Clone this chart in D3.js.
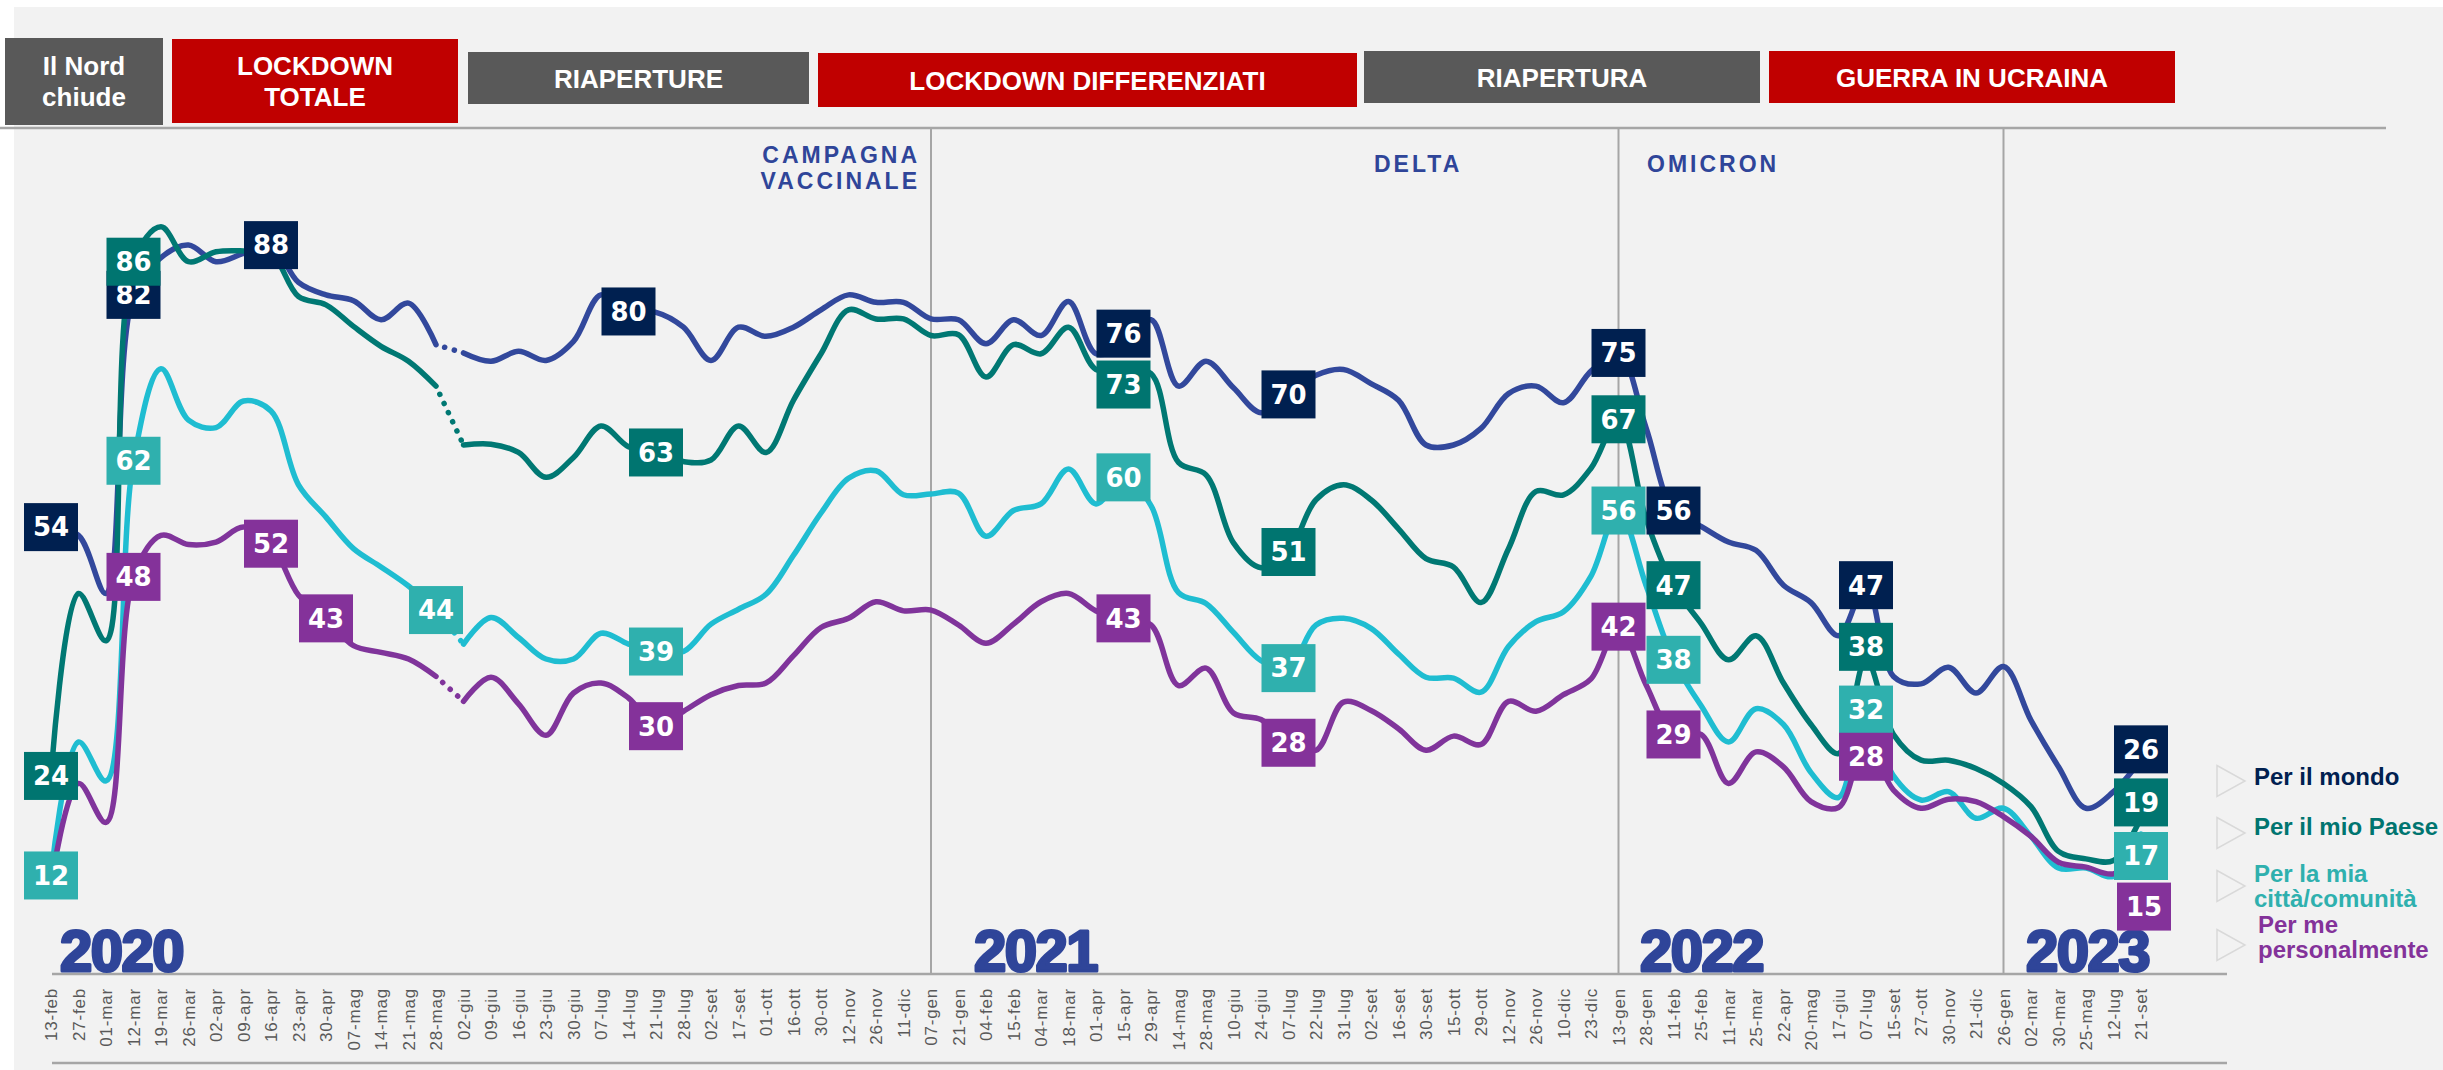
<!DOCTYPE html>
<html>
<head>
<meta charset="utf-8">
<script src="https://cdn.jsdelivr.net/npm/d3@7"></script>
<style>
  html, body { margin: 0; padding: 0; background: #ffffff; }
  svg { display: block; }
</style>
</head>
<body>
<svg id="chart" width="2443" height="1070"></svg>
<script>
// ---------------- DATA ----------------
const categories = ["13-feb","27-feb","01-mar","12-mar","19-mar","26-mar","02-apr","09-apr","16-apr","23-apr","30-apr","07-mag","14-mag","21-mag","28-mag","02-giu","09-giu","16-giu","23-giu","30-giu","07-lug","14-lug","21-lug","28-lug","02-set","17-set","01-ott","16-ott","30-ott","12-nov","26-nov","11-dic",
  "07-gen","21-gen","04-feb","15-feb","04-mar","18-mar","01-apr","15-apr","29-apr","14-mag","28-mag","10-giu","24-giu","07-lug","22-lug","31-lug","02-set","16-set","30-set","15-ott","29-ott","12-nov","26-nov","10-dic","23-dic",
  "13-gen","28-gen","11-feb","25-feb","11-mar","25-mar","22-apr","20-mag","17-giu","07-lug","15-set","27-ott","30-nov","21-dic",
  "26-gen","02-mar","30-mar","25-mag","12-lug","21-set"];

const perIlMondo = [54,53,46,82,86.5,88,86,87,88,83.5,82,81.3,79,81,76,75,74,75.2,74.1,76.4,82,80,79.9,78.1,74.1,78.1,77,78.1,80.2,82,81.1,81.1,
  79.1,79,76.1,79,77.1,81.2,74.9,76,79,71,74,70.8,67.8,70,72.3,73,71.3,69.3,63.9,63.9,65.9,70.1,71,69,72.8,
  75,66,56,54.1,52.2,51.2,47,44.9,40.9,47,36,35.1,37.1,34,
  37.2,30.7,25.1,20.1,22.1,26];

const perIlMioPaese = [24,46,40.3,86,90.2,86,87.2,87.3,87,81.8,80.8,78.2,75.8,74,71,63.9,64,63,60,62.4,66.2,63.7,63,61.9,62.1,66.2,63,69.3,74.9,80.2,79.1,79.1,
  77.1,77.2,72.1,76,74.9,78.1,73,73,72.5,61.8,60.3,52.1,49.1,51,57.3,59.1,57.3,53.8,50.2,49.2,44.9,51.4,58.3,57.9,61.1,
  67,55,47,42.4,38,40.9,35.2,30.2,26.7,38,29,25.9,25.9,24.9,
  23.1,20.3,14.9,14,13.8,19];

const perLaMiaCitta = [12,28.1,23.4,62,73.1,66.9,66,69.2,68,59.1,55.2,51.4,49.2,46.9,44,39.9,43.1,40.7,38.1,38.1,41.2,39.9,39,39,42.3,44.1,45.9,50.6,55.7,59.9,60.8,57.9,
  58,58.1,52.9,56,56.8,61,56.8,60,56.6,46.1,44.8,41.3,37.9,37,42.2,43,41.8,38.7,35.9,35.8,34.1,39.6,42.6,43.8,48.1,
  56,47,38,32.5,28.1,32.1,30.2,24.4,21.4,32,24,21.1,22.1,18.9,
  20.1,16.7,12.9,12.9,11.9,17];

const perMePersonalmente = [11,23.1,18.4,48,53,51.9,52.2,54,52,45.8,43,39.7,38.9,38.1,36,33,35.9,32.7,28.9,34,35.2,33.4,30,31.8,33.8,34.9,35.2,38.5,41.9,43,45,43.9,
  44,42.2,40,42.3,45,46,43.9,43,42.2,34.9,37,31.6,30.8,28,27.1,32.9,31.9,29.7,27.1,28.8,27.8,33,31.8,33.8,35.7,
  42,35,29,29,23.1,26.9,25.1,20.9,20.2,28,22.3,20.1,21.2,20.9,
  19.1,16.7,13.6,13,12.2,15];

const seriesNames = ["Per il mondo","Per il mio Paese","Per la mia città/comunità","Per me personalmente"];
const legendLines = [["Per il mondo"],["Per il mio Paese"],["Per la mia","città/comunità"],["Per me","personalmente"]];

// indices of the labelled points for each series
const labelsMondo = [0,3,8,21,39,45,57,59,66,76];
const labelsPaese = [0,3,22,39,45,57,59,66,76];
const labelsCitta = [0,3,14,22,39,45,57,59,66,76];
const labelsPersona = [3,8,10,22,39,45,57,59,66,76];

const yearLabels = ["2020","2021","2022","2023"];
const yearStartIdx = [0,32,57,71];         // first category of each year
const dottedFrom = 14;                      // gap segment 28-mag -> 02-giu drawn dotted

const bannerTexts = [["Il Nord","chiude"],["LOCKDOWN","TOTALE"],["RIAPERTURE"],["LOCKDOWN DIFFERENZIATI"],["RIAPERTURA"],["GUERRA IN UCRAINA"]];
const phaseTexts = [["CAMPAGNA","VACCINALE"],["DELTA"],["OMICRON"]];

// ---------------- STYLE / LAYOUT ----------------
const W = 2443, H = 1070;
const lineColors = ["#32489c","#007873","#1fbdd1","#80349b"];
const boxColors  = ["#002050","#007570","#2fb0ae","#84329a"];
const legendColors = ["#002050","#007570","#2fb0ae","#84329a"];
const blue = "#2f4599";
const gridGray = "#a6a6a6";

const svg = d3.select("#chart");

// background
svg.append("rect").attr("x",0).attr("y",0).attr("width",W).attr("height",H).attr("fill","#ffffff");
svg.append("rect").attr("x",14).attr("y",7).attr("width",W-14).attr("height",H-7).attr("fill","#f2f2f2");

const x = d3.scalePoint().domain(d3.range(categories.length)).range([51, 2141]);
const y = d3.scaleLinear().domain([0, 102]).range([975, 129]);

// top separator line
svg.append("line").attr("x1",0).attr("x2",2386).attr("y1",128).attr("y2",128)
  .attr("stroke",gridGray).attr("stroke-width",2.5);

// year divider lines
yearStartIdx.slice(1).forEach(i => {
  svg.append("line").attr("x1",x(i)).attr("x2",x(i)).attr("y1",129).attr("y2",975)
    .attr("stroke",gridGray).attr("stroke-width",2);
});

// axis line + bottom line
svg.append("line").attr("x1",52).attr("x2",2227).attr("y1",974).attr("y2",974)
  .attr("stroke",gridGray).attr("stroke-width",2.5);
svg.append("line").attr("x1",52).attr("x2",2227).attr("y1",1063).attr("y2",1063)
  .attr("stroke",gridGray).attr("stroke-width",2.5);

// category tick labels via axis
const axisG = svg.append("g").attr("transform","translate(0,988)")
  .call(d3.axisBottom(x).tickSize(0).tickPadding(0).tickFormat(i => categories[i]));
axisG.select(".domain").remove();
axisG.selectAll("text")
  .attr("transform","rotate(-90)")
  .attr("x",0).attr("y",0).attr("dy","0.35em")
  .attr("text-anchor","end")
  .attr("font-family","'Liberation Sans', Arial, sans-serif")
  .attr("font-size",17).attr("letter-spacing","0.8px")
  .attr("fill","#595959");

// year labels
const yearX = [60, 974, 1640, 2026];
yearLabels.forEach((t,k) => {
  svg.append("text").attr("x",yearX[k]).attr("y",971)
    .attr("font-family","'Liberation Sans', Arial, sans-serif")
    .attr("font-weight","bold").attr("font-size",58)
    .attr("letter-spacing","-1.5px")
    .attr("fill",blue).attr("stroke",blue).attr("stroke-width",3)
    .attr("stroke-linejoin","round")
    .text(t);
});

// banners
const bannerBoxes = [[5,163,38,125],[172,458,39,123],[468,809,52,104],[818,1357,53,107],[1364,1760,51,103],[1769,2175,51,103]];
const bannerFills = ["#595959","#c00000","#595959","#c00000","#595959","#c00000"];
bannerTexts.forEach((lines,k) => {
  const [x0,x1,y0,y1] = bannerBoxes[k];
  svg.append("rect").attr("x",x0).attr("y",y0).attr("width",x1-x0).attr("height",y1-y0).attr("fill",bannerFills[k]);
  const cx = (x0+x1)/2;
  const baselines = lines.length === 2 ? [75,106] : [(y0+y1)/2 + 9.5];
  lines.forEach((ln,j) => {
    svg.append("text").attr("x",cx).attr("y",baselines[j])
      .attr("text-anchor","middle")
      .attr("font-family","'Liberation Sans', Arial, sans-serif")
      .attr("font-weight","bold").attr("font-size",26)
      .attr("fill","#ffffff").text(ln);
  });
});

// phase annotations
const phasePos = [{x:920, anchor:"end", ys:[163,189]},{x:1374, anchor:"start", ys:[172]},{x:1647, anchor:"start", ys:[172]}];
phaseTexts.forEach((lines,k) => {
  lines.forEach((ln,j) => {
    svg.append("text").attr("x",phasePos[k].x).attr("y",phasePos[k].ys[j])
      .attr("text-anchor",phasePos[k].anchor)
      .attr("font-family","'Liberation Sans', Arial, sans-serif")
      .attr("font-weight","bold").attr("font-size",23)
      .attr("letter-spacing","3px")
      .attr("fill",blue).text(ln);
  });
});

// lines
const allSeries = [perIlMondo, perIlMioPaese, perLaMiaCitta, perMePersonalmente];
const lineGen = d3.line().x(d => x(d.i)).y(d => y(d.v)).curve(d3.curveCatmullRom.alpha(0.5));
const linesG = svg.append("g");
allSeries.forEach((vals,s) => {
  const pts = vals.map((v,i) => ({i, v}));
  const partA = pts.slice(0, dottedFrom+1);
  const partB = pts.slice(dottedFrom+1);
  const gap = pts.slice(dottedFrom, dottedFrom+2);
  [partA, partB].forEach(p => {
    linesG.append("path").attr("d",lineGen(p)).attr("fill","none")
      .attr("stroke",lineColors[s]).attr("stroke-width",5.5)
      .attr("stroke-linecap","round").attr("stroke-linejoin","round");
  });
  linesG.append("path").attr("d",d3.line().x(d=>x(d.i)).y(d=>y(d.v))(gap)).attr("fill","none")
    .attr("stroke",lineColors[s]).attr("stroke-width",5.5)
    .attr("stroke-linecap","round").attr("stroke-dasharray","0.1 10")
    .attr("stroke-dashoffset",-9);
});

// data labels
const labelIdx = [labelsMondo, labelsPaese, labelsCitta, labelsPersona];
const nudge = {"0-39":-11, "1-39":15, "1-66":-13, "3-66":14, "0-76":-10, "1-76":-15, "2-76":22, "3-76":56};
const nudgeX = {"3-76":3};
const labelsG = svg.append("g");
const bw = 54, bh = 48;
labelIdx.forEach((idxs,s) => {
  idxs.forEach(i => {
    const key = s + "-" + i;
    const cx = x(i) + (nudgeX[key] || 0);
    const cy = y(allSeries[s][i]) + (nudge[key] || 0);
    labelsG.append("rect").attr("x",cx-bw/2).attr("y",cy-bh/2).attr("width",bw).attr("height",bh)
      .attr("fill",boxColors[s]);
    labelsG.append("text").attr("x",cx).attr("y",cy).attr("dy","0.36em")
      .attr("text-anchor","middle")
      .attr("font-family","'DejaVu Sans', sans-serif")
      .attr("font-weight","bold").attr("font-size",26)
      .attr("fill","#ffffff")
      .text(Math.round(allSeries[s][i]));
  });
});

// legend
const legendCenters = [781, 833, 886, 945];
const legendBaselines = [[785],[835],[882,907],[933,958]];
const legendTextX = [2254,2254,2254,2258];
seriesNames.forEach((name,k) => {
  const cy = legendCenters[k];
  svg.append("path")
    .attr("d", `M2217,${cy-15.5} L2245,${cy} L2217,${cy+15.5} Z`)
    .attr("fill","none").attr("stroke","#d9d9d9").attr("stroke-width",1.5);
  legendLines[k].forEach((ln,j) => {
    svg.append("text").attr("x",legendTextX[k]).attr("y",legendBaselines[k][j])
      .attr("font-family","'Liberation Sans', Arial, sans-serif")
      .attr("font-weight","bold").attr("font-size",24)
      .attr("fill",legendColors[k]).text(ln);
  });
});
</script>
</body>
</html>
